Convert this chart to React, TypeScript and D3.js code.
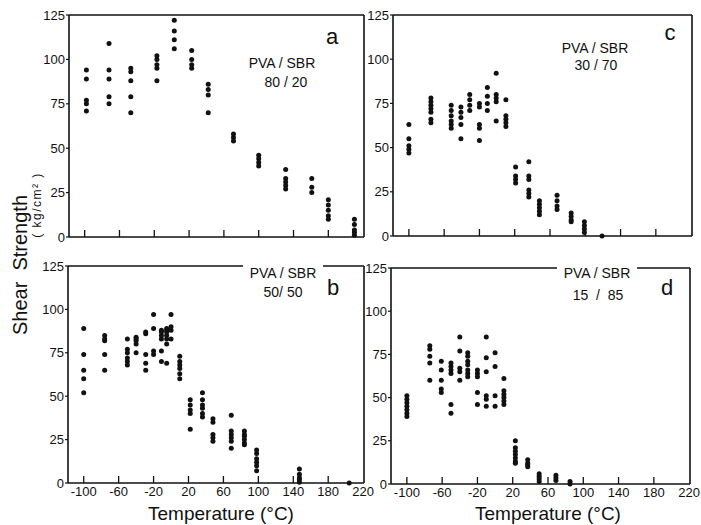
import React from "react";
import * as d3 from "d3";

// ---------- data ----------
const yTickValues = [0, 25, 50, 75, 100, 125];
const xTickValues = [-100, -60, -20, 20, 60, 100, 140, 180];
const xTickLabelValues = [-100, -60, -20, 20, 60, 100, 140, 180, 220];
const tempDomain = [-118, 221];
const strengthDomain = [0, 125];

// Panel a: PVA/SBR 80/20
const tempsA = [-98, -72, -47, -17, 3, 23, 42, 71, 100, 131, 161, 180, 210];
const valsA = [
  [94, 89, 77, 75, 71],
  [109, 94, 89, 79, 75],
  [95, 93, 88, 79, 70],
  [102, 100, 97, 95, 88],
  [122, 116, 111, 106],
  [105, 100, 97, 95],
  [86, 83, 80, 70],
  [58, 56, 54],
  [46, 44, 42, 40],
  [38, 33, 31, 29, 27],
  [33, 28, 25],
  [21, 18, 15, 12, 10],
  [10, 7, 4, 2.5, 1],
];

// Panel b: PVA/SBR 50/50
const tempsB = [-100, -76, -50, -40, -29, -20, -11, -5, 0, 10, 22, 36, 48, 69, 84, 98, 147, 204];
const valsB = [
  [89, 74, 65, 60, 52],
  [85, 83, 82, 74, 65],
  [83, 77, 75, 72, 70, 68],
  [84, 83, 82, 80, 75],
  [87, 86, 74, 69, 65],
  [97, 89, 76, 74],
  [88, 87, 85, 83, 76, 70],
  [89, 88, 87, 85, 83, 80, 69],
  [97, 90, 88, 83],
  [73, 70, 68, 66, 63, 60],
  [48, 45, 42, 40, 31],
  [52, 48, 45, 43, 40, 38],
  [37, 35, 28, 26, 24],
  [39, 30, 28, 26, 24, 20],
  [30, 28, 27, 25, 23, 22],
  [19, 17, 14, 12, 10, 7],
  [8, 5, 3, 2, 0.5],
  [0],
];

// Panel c: PVA/SBR 30/70
const tempsC = [-100, -75, -52, -41, -31, -20, -11, -1, 10, 21, 36, 48, 68, 84, 99, 119];
const valsC = [
  [63, 55, 51, 49, 47],
  [78, 76, 74, 72, 70, 66, 64],
  [74, 71, 68, 65, 63, 61],
  [73, 70, 67, 63, 55],
  [80, 77, 74, 71],
  [75, 73, 63, 61, 54],
  [84, 79, 75, 71],
  [92, 80, 78, 76, 65],
  [77, 68, 66, 64, 62],
  [39, 34, 32, 30],
  [42, 34, 32, 26, 24, 22],
  [20, 18, 16, 14, 12],
  [23, 20, 17, 15],
  [13, 11, 9, 8],
  [8, 6, 4, 2],
  [0],
];

// Panel d: PVA/SBR 15/85
const tempsD = [-100, -74, -61, -50, -40, -31, -20, -10, 0, 10, 23, 37, 50, 69, 85];
const valsD = [
  [51, 49, 47, 45, 43, 41, 39],
  [80, 78, 74, 70, 60],
  [71, 66, 60, 55, 53],
  [70, 68, 66, 64, 46, 41],
  [85, 77, 67, 65, 60],
  [76, 74, 71, 69, 66, 64, 62],
  [66, 64, 62, 53, 46],
  [85, 73, 65, 51, 49, 45],
  [76, 68, 51, 45],
  [61, 54, 52, 50, 48, 46],
  [25, 21, 19, 17, 15, 13, 12],
  [14, 12, 11, 10],
  [6, 4.5, 3, 1.5],
  [5, 3.5, 2],
  [1.5, 0],
];

const ratioLabels = ["80 / 20", "50/ 50", "30 / 70", "15  /  85"];
const panelLetters = ["a", "b", "c", "d"];

// ---------- layout ----------
const FONT = "'Liberation Sans', Arial, sans-serif";
const INK = "#111";

const panels = [
  { letter: panelLetters[0], ratio: ratioLabels[0], temps: tempsA, vals: valsA,
    x0: 69, x1: 364, y0: 15, y1: 237, xLabels: false,
    letterPos: [332, 44], titlePos: [282, 68], ratioPos: [286, 87], gap: null },
  { letter: panelLetters[1], ratio: ratioLabels[1], temps: tempsB, vals: valsB,
    x0: 68, x1: 364, y0: 266, y1: 483, xLabels: true,
    letterPos: [333, 295], titlePos: [283, 278], ratioPos: [283, 297], gap: [243, 323] },
  { letter: panelLetters[2], ratio: ratioLabels[2], temps: tempsC, vals: valsC,
    x0: 393, x1: 692, y0: 15, y1: 236, xLabels: false,
    letterPos: [670, 40], titlePos: [595, 53], ratioPos: [596, 70], gap: null },
  { letter: panelLetters[3], ratio: ratioLabels[3], temps: tempsD, vals: valsD,
    x0: 391, x1: 690, y0: 268, y1: 484, xLabels: true,
    letterPos: [667, 295], titlePos: [597, 278], ratioPos: [598, 300], gap: [557, 637] },
];

function Panel({ p }: { p: any }) {
  const x = d3.scaleLinear().domain(tempDomain).range([p.x0, p.x1]);
  const y = d3.scaleLinear().domain(strengthDomain).range([p.y1, p.y0]);
  const sw = 1.6;
  const top = p.gap
    ? (
      <g>
        <line x1={p.x0} x2={p.gap[0]} y1={p.y0} y2={p.y0} stroke={INK} strokeWidth={sw} />
        <line x1={p.gap[1]} x2={p.x1} y1={p.y0} y2={p.y0} stroke={INK} strokeWidth={sw} />
      </g>
    )
    : <line x1={p.x0} x2={p.x1} y1={p.y0} y2={p.y0} stroke={INK} strokeWidth={sw} />;
  return (
    <g>
      {top}
      <line x1={p.x0} x2={p.x0} y1={p.y0} y2={p.y1} stroke={INK} strokeWidth={sw} />
      <line x1={p.x1} x2={p.x1} y1={p.y0} y2={p.y1} stroke={INK} strokeWidth={sw} />
      <line x1={p.x0} x2={p.x1} y1={p.y1} y2={p.y1} stroke={INK} strokeWidth={sw} />
      {xTickValues.map((t) => (
        <line key={"xt" + t} x1={x(t)} x2={x(t)} y1={p.y1} y2={p.y1 - 7} stroke={INK} strokeWidth={1.3} />
      ))}
      {yTickValues.map((v) => (
        <g key={"yt" + v}>
          <line x1={p.x0 - 3} x2={p.x0} y1={y(v)} y2={y(v)} stroke={INK} strokeWidth={1.2} />
          <text x={p.x0 - 4} y={y(v) + 4.5} textAnchor="end" fontSize={13} fontFamily={FONT} fill={INK}>{v}</text>
        </g>
      ))}
      {p.xLabels && xTickLabelValues.map((t) => (
        <text key={"xl" + t} x={x(t)} y={p.y1 + 13} textAnchor="middle" fontSize={13} fontFamily={FONT} fill={INK}>{t}</text>
      ))}
      {p.temps.flatMap((t: number, i: number) =>
        p.vals[i].map((v: number, j: number) => (
          <circle key={`pt${i}-${j}`} cx={x(t)} cy={y(v)} r={2.5} fill={INK} />
        ))
      )}
      <text x={p.letterPos[0]} y={p.letterPos[1]} textAnchor="middle" fontSize={22} fontFamily={FONT} fill={INK}>{p.letter}</text>
      <text x={p.titlePos[0]} y={p.titlePos[1]} textAnchor="middle" fontSize={14} fontFamily={FONT} fill={INK}>PVA / SBR</text>
      <text x={p.ratioPos[0]} y={p.ratioPos[1]} textAnchor="middle" fontSize={14} fontFamily={FONT} fill={INK} style={{ whiteSpace: "pre" }}>{p.ratio}</text>
    </g>
  );
}

export default function App() {
  return (
    <div style={{ position: "absolute", left: 0, top: 0, background: "#fff" }}>
      <svg width={701} height={525} viewBox="0 0 701 525" style={{ display: "block", background: "#fff" }}>
        {panels.map((p) => <Panel key={p.letter} p={p} />)}
        <text transform="translate(27,265) rotate(-90)" textAnchor="middle" fontSize={20} fontFamily={FONT} fill={INK} style={{ whiteSpace: "pre" }}>Shear  Strength</text>
        <text transform="translate(41,205) rotate(-90)" textAnchor="middle" fontSize={12} fontFamily={FONT} fill={INK} letterSpacing={1.5}>( kg/cm² )</text>
        <text x={221} y={520} textAnchor="middle" fontSize={19} fontFamily={FONT} fill={INK}>Temperature (°C)</text>
        <text x={548} y={520} textAnchor="middle" fontSize={19} fontFamily={FONT} fill={INK}>Temperature (°C)</text>
      </svg>
    </div>
  );
}
